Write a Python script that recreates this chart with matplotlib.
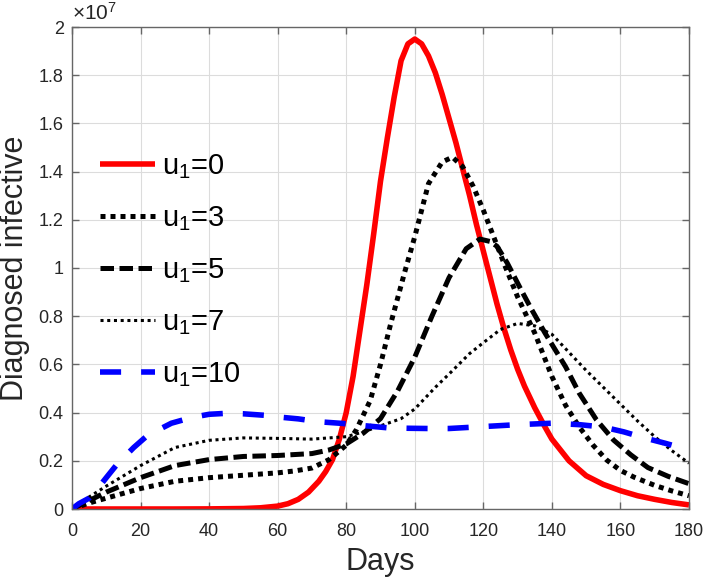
import matplotlib
matplotlib.use("Agg")
import matplotlib.pyplot as plt
from matplotlib.ticker import FuncFormatter, MultipleLocator

plt.rcParams['font.family'] = ['Liberation Sans', 'DejaVu Sans']
plt.rcParams['mathtext.fontset'] = 'custom'
plt.rcParams['mathtext.rm'] = 'Liberation Sans'
plt.rcParams['mathtext.it'] = 'Liberation Sans'
plt.rcParams['mathtext.default'] = 'regular'

# Values in millions of people
days_u0 = [0, 10, 20, 30, 40, 50, 55, 60, 63, 66, 69, 72, 74, 76, 78, 80, 82, 84, 86, 88,
           90, 92, 94, 96, 98, 100, 102, 104, 106, 108, 110, 112, 114, 116, 118, 120, 122,
           124, 126, 128, 130, 132, 135, 138, 140, 145, 150, 155, 160, 165, 170, 175, 180]
u0 = [0, 0, 0, 0, 0.005, 0.02, 0.05, 0.12, 0.22, 0.4, 0.7, 1.15, 1.55, 2.05, 2.9, 4.0, 5.5,
      7.4, 9.3, 11.4, 13.6, 15.4, 17.1, 18.6, 19.3, 19.5, 19.3, 18.8, 18.1, 17.2, 16.2, 15.2,
      14.1, 13.0, 11.8, 10.7, 9.6, 8.5, 7.5, 6.6, 5.8, 5.1, 4.2, 3.4, 2.9, 2.0, 1.38, 1.02,
      0.76, 0.55, 0.4, 0.27, 0.17]

days_u3 = [0, 5, 10, 15, 20, 30, 40, 50, 60, 65, 70, 75, 80, 83, 87, 90, 93, 97, 100, 104,
           108, 111, 114, 117, 120, 123, 126, 130, 135, 140, 144, 148, 152, 156, 160, 164,
           170, 175, 180]
u3 = [0, 0.25, 0.45, 0.65, 0.85, 1.15, 1.3, 1.4, 1.5, 1.58, 1.7, 2.05, 2.65, 3.3, 4.5, 6.0,
      7.7, 9.8, 11.3, 13.5, 14.4, 14.6, 14.2, 13.4, 12.4, 11.3, 10.2, 8.8, 7.3, 5.5, 4.3,
      3.4, 2.65, 2.03, 1.6, 1.32, 0.98, 0.75, 0.55]

days_u5 = [0, 5, 10, 20, 30, 40, 50, 60, 70, 75, 80, 85, 90, 95, 100, 105, 110, 115, 119,
           122, 124, 127, 131, 134, 138, 144, 148, 153, 158, 163, 168, 174, 180]
u5 = [0, 0.35, 0.7, 1.3, 1.8, 2.05, 2.18, 2.22, 2.3, 2.45, 2.7, 3.15, 3.75, 4.9, 6.3, 8.0,
      9.6, 10.8, 11.2, 11.1, 10.9, 10.2, 9.1, 8.3, 7.3, 5.9, 4.8, 3.7, 2.86, 2.25, 1.72,
      1.35, 1.05]

days_u7 = [0, 5, 10, 20, 30, 40, 50, 60, 70, 80, 85, 90, 96, 100, 106, 110, 116, 120, 125,
           130, 135, 140, 145, 150, 155, 160, 165, 170, 175, 180]
u7 = [0, 0.5, 0.95, 1.8, 2.55, 2.85, 2.95, 2.93, 2.9, 3.0, 3.2, 3.45, 3.75, 4.15, 5.05, 5.6,
      6.45, 6.9, 7.45, 7.7, 7.6, 7.25, 6.5, 5.75, 5.05, 4.35, 3.65, 3.0, 2.42, 1.9]

days_u10 = [0, 2, 5, 7.5, 10, 13, 18, 22, 29, 35, 40, 45, 50, 57, 60, 66, 72, 79, 85, 92,
            98, 104, 110, 120, 130, 140, 148, 155, 161, 167, 173, 180]
u10 = [0, 0.22, 0.45, 0.85, 1.3, 1.83, 2.55, 3.05, 3.56, 3.8, 3.93, 3.97, 3.95, 3.88, 3.82,
       3.74, 3.62, 3.55, 3.46, 3.37, 3.35, 3.34, 3.34, 3.42, 3.5, 3.56, 3.5, 3.4, 3.2, 2.95,
       2.73, 2.45]

labels = [r'$u_1$=0', r'$u_1$=3', r'$u_1$=5', r'$u_1$=7', r'$u_1$=10']

fig = plt.figure(figsize=(7.08, 5.81), dpi=100)
ax = fig.add_axes([72/708, 1-509/581, (689-72)/708, (509-27)/581])

M = 1e6
ax.plot(days_u0, [v*M for v in u0], color='#ff0000', lw=4.0, solid_capstyle='butt', label=labels[0])
ax.plot(days_u3, [v*M for v in u3], color='black', lw=3.6, linestyle=(0, (1, 1)), dash_capstyle='butt', label=labels[1])
ax.plot(days_u5, [v*M for v in u5], color='black', lw=3.6, linestyle=(0, (2.7, 1.1)), dash_capstyle='butt', label=labels[2])
ax.plot(days_u7, [v*M for v in u7], color='black', lw=2.2, linestyle=(0, (1, 1.2)), dash_capstyle='butt', label=labels[3])
ax.plot(days_u10, [v*M for v in u10], color='#0000ff', lw=4.0, linestyle=(0, (3.8, 3.6)), dash_capstyle='butt', label=labels[4])

ax.set_xlim(0, 180)
ax.set_ylim(0, 2e7)
ax.xaxis.set_major_locator(MultipleLocator(20))
ax.yaxis.set_major_locator(MultipleLocator(2e6))
ax.yaxis.set_major_formatter(FuncFormatter(lambda v, p: f'{v/1e7:g}'))

ax.grid(True, color='#dcdcdc', lw=0.8)
ax.set_axisbelow(True)
for s in ax.spines.values():
    s.set_color('#666666')
    s.set_linewidth(1.0)
ax.tick_params(direction='in', length=5, width=1, color='#666666', labelsize=13,
               labelcolor='#262626', top=True, right=True)
ax.tick_params(axis='x', pad=10)
ax.tick_params(axis='y', pad=6)

ax.set_xlabel('Days', fontsize=22, color='#262626', labelpad=5)
ax.set_ylabel('Diagnosed infective', fontsize=22, color='#262626', labelpad=6)
ax.text(0, 1.006, r'$\times10^{7}$', transform=ax.transAxes, ha='left', va='bottom',
        fontsize=15, color='#262626')

leg = ax.legend(loc='upper left', bbox_to_anchor=(100/708, 1-152/581), bbox_transform=fig.transFigure,
                frameon=False, fontsize=21, handlelength=1.9, handletextpad=0.22,
                labelspacing=0.8, borderpad=0, borderaxespad=0)

fig.savefig('out.png', dpi=100)
